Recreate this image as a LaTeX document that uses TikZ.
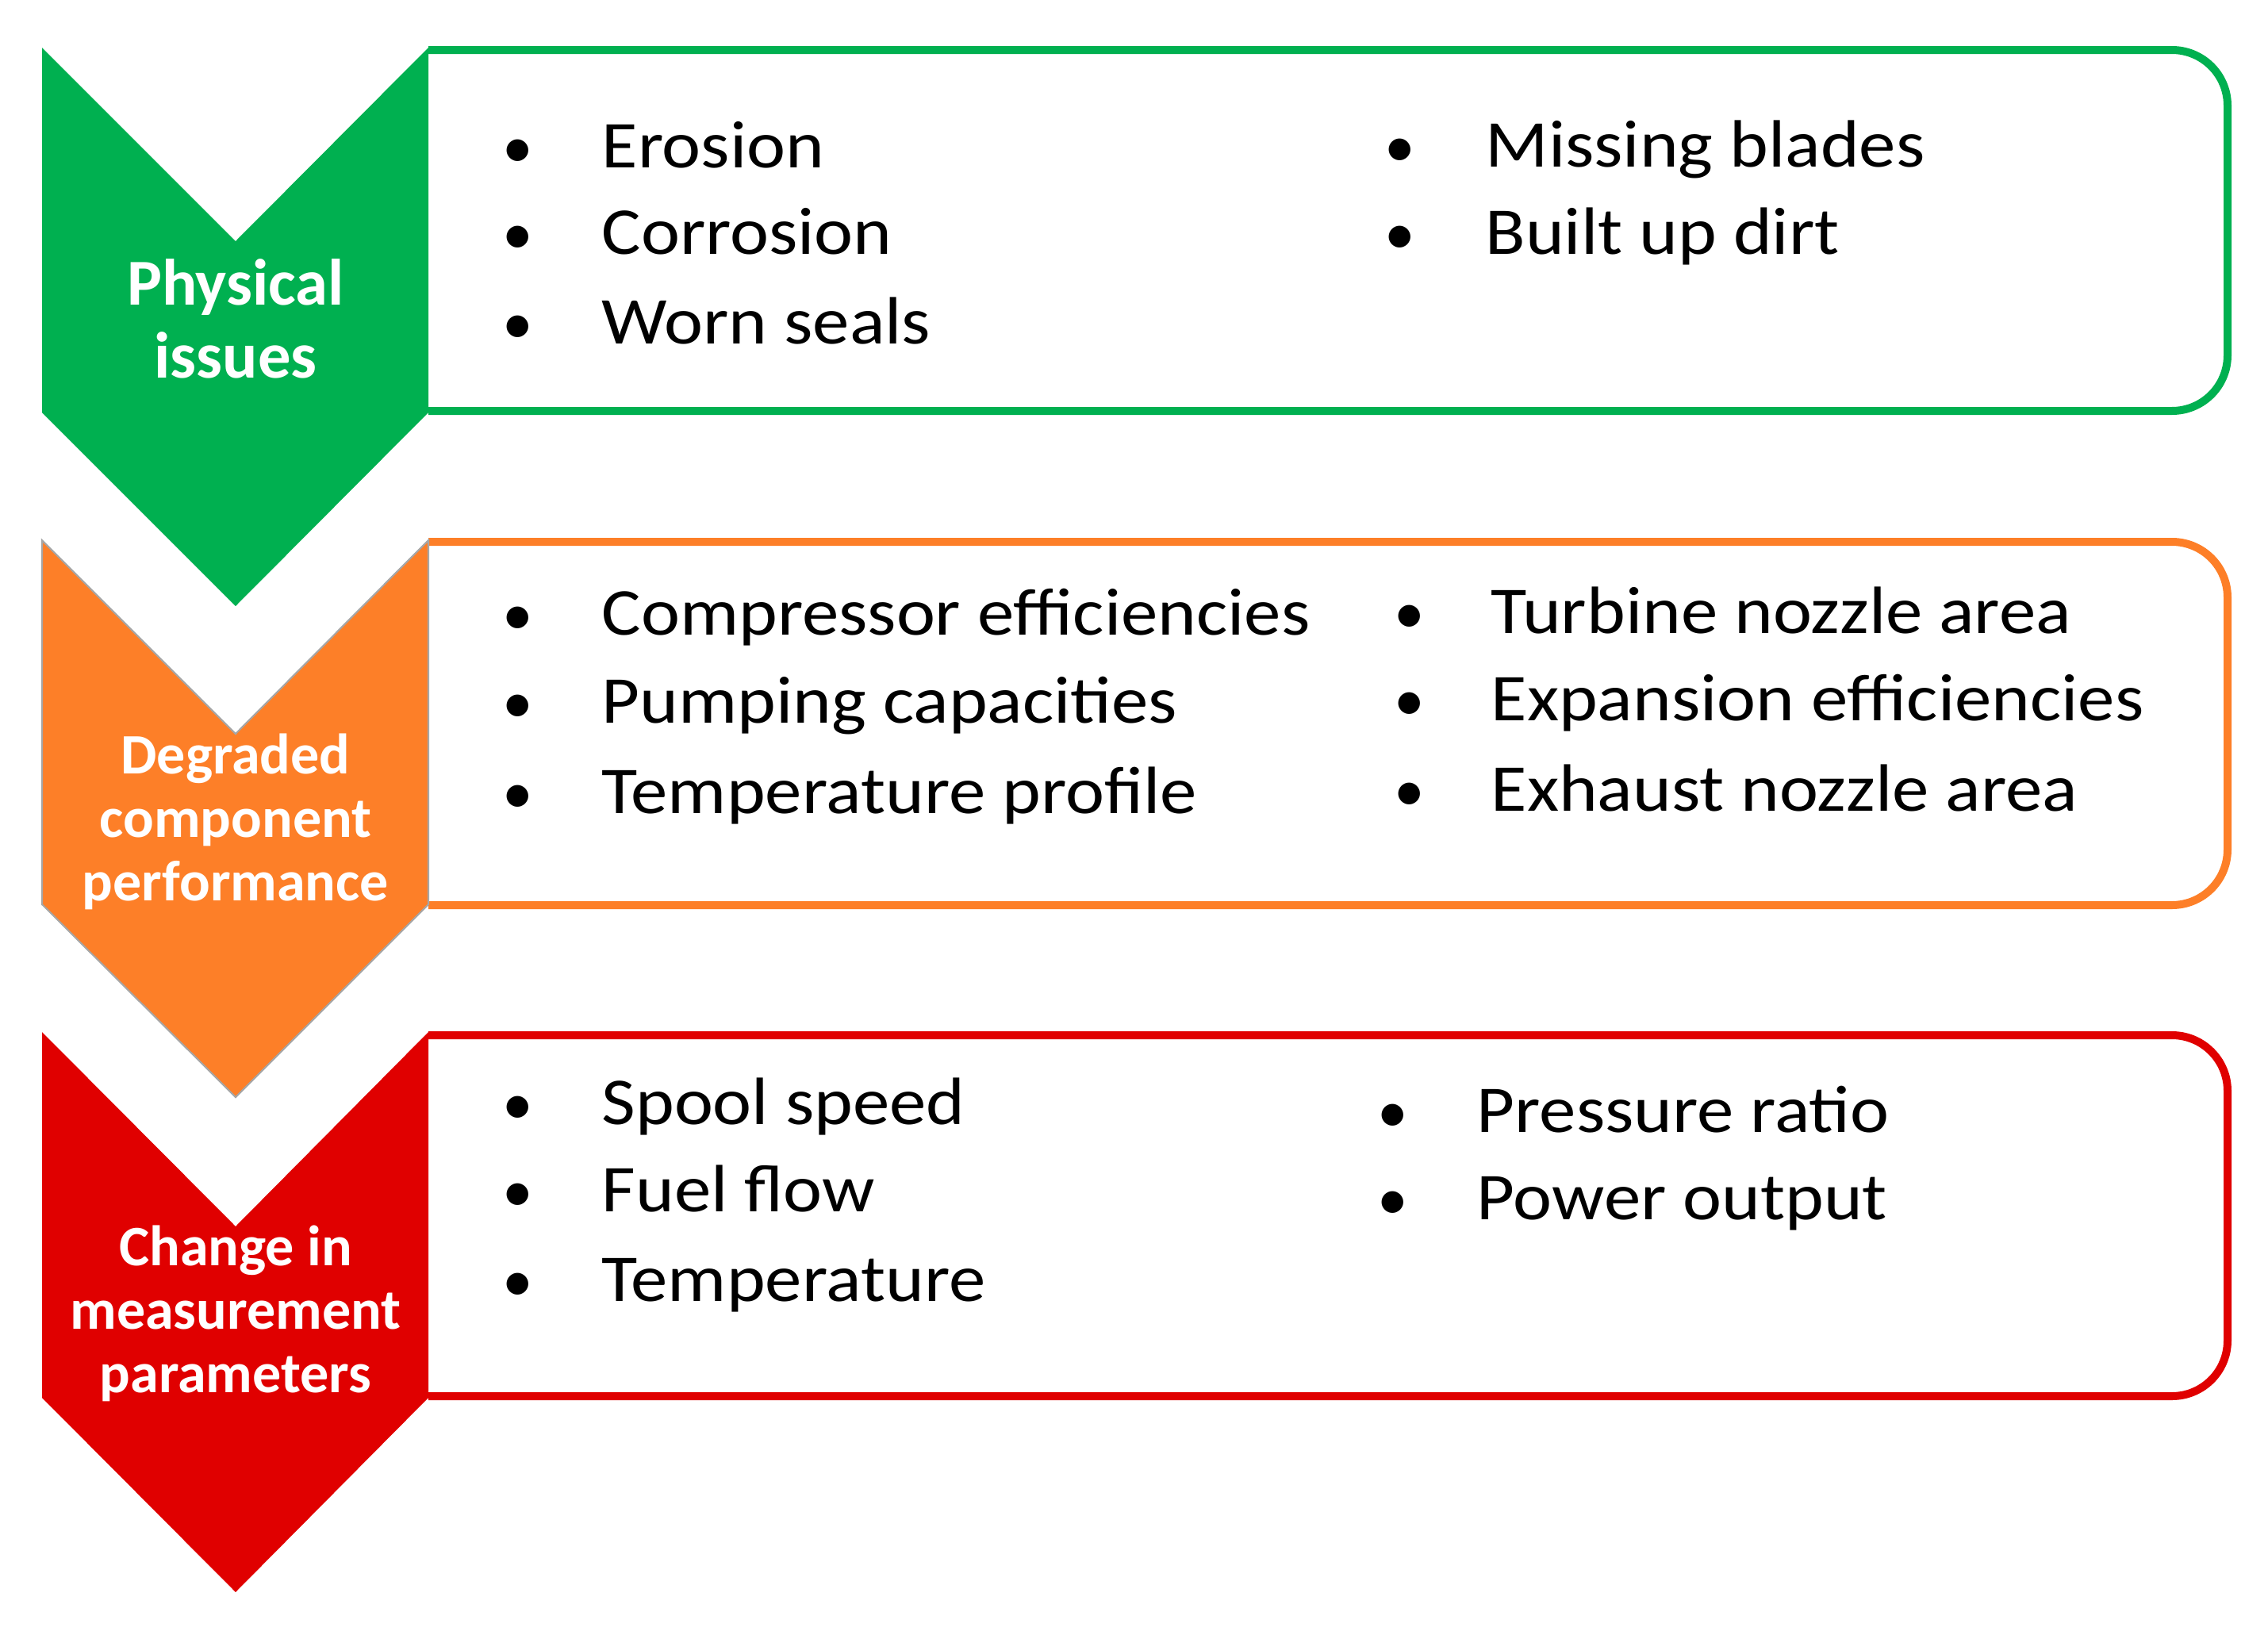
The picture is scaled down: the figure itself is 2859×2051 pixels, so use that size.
\documentclass[tikz,border=0pt]{standalone}
\usepackage{fontspec}
\setmainfont{Carlito}
\newfontfamily\itemfont[FakeStretch=1.1]{Carlito}
\usetikzlibrary{positioning}

\definecolor{physgreen}{RGB}{0,176,80}
\definecolor{degorange}{RGB}{253,127,40}
\definecolor{measred}{RGB}{224,0,0}

\tikzset{
  panel/.style={line width=0.1cm, rounded corners=0.7cm},
  head/.style={text=white, align=center, inner sep=0pt, font=\bfseries\fontsize{20.5}{22.8}\selectfont},
  item/.style={anchor=base west, inner sep=0pt, font=\itemfont\fontsize{24}{29}\selectfont},
  dot/.style={anchor=base, inner sep=0pt, font=\fontsize{22}{29}\selectfont}
}

\begin{document}
\begin{tikzpicture}[x=0.01cm, y=-0.01cm]
\useasboundingbox (0,0) rectangle (2859,2051);

% boxes
\draw[panel, physgreen] (540,63) -- (2808,63) -- (2808,518) -- (540,518);
\draw[panel, degorange] (540,683) -- (2808,683) -- (2808,1141) -- (540,1141);
\draw[panel, measred] (540,1305) -- (2808,1305) -- (2808,1760) -- (540,1760);

% chevrons
\fill[physgreen] (53,60) -- (297,304) -- (540,60) -- (540,520) -- (297,764) -- (53,520) -- cycle;
\filldraw[degorange, draw=gray!70, line width=0.6pt] (53,681) -- (297,925) -- (540,681) -- (540,1140) -- (297,1383) -- (53,1140) -- cycle;
\fill[measred] (53,1301) -- (297,1546) -- (540,1301) -- (540,1762) -- (297,2007) -- (53,1762) -- cycle;

% labels
\node[head, font=\bfseries\fontsize{23.5}{26.2}\selectfont] (phys) at (297,402) {Physical\\issues};
\node[head] (deg) at (297,1036) {Degraded\\component\\performance};
\node[head] (meas) at (297,1656) {Change in\\measurement\\parameters};

% physical issues
\node[dot] (p1d) at (653,211) {•};
\node[item] (p1) at (758,211) {Erosion};
\node[dot] (p2d) at (653,320) {•};
\node[item] (p2) at (758,320) {Corrosion};
\node[dot] (p3d) at (653,433) {•};
\node[item] (p3) at (758,433) {Worn seals};
\node[dot] (p4d) at (1765,210) {•};
\node[item] (p4) at (1872,210) {Missing blades};
\node[dot] (p5d) at (1765,320) {•};
\node[item] (p5) at (1872,320) {Built up dirt};

% degraded performance
\node[dot] (d1d) at (653,800) {•};
\node[item] (d1) at (758,800) {Compressor efficiencies};
\node[dot] (d2d) at (653,911) {•};
\node[item] (d2) at (758,911) {Pumping capacities};
\node[dot] (d3d) at (653,1025) {•};
\node[item] (d3) at (758,1025) {Temperature profile};
\node[dot] (d4d) at (1777,798) {•};
\node[item] (d4) at (1879,798) {Turbine nozzle area};
\node[dot] (d5d) at (1777,908) {•};
\node[item] (d5) at (1879,908) {Expansion efficiencies};
\node[dot] (d6d) at (1777,1022) {•};
\node[item] (d6) at (1879,1022) {Exhaust nozzle area};

% measurement parameters
\node[dot] (m1d) at (653,1417) {•};
\node[item] (m1) at (758,1417) {Spool speed};
\node[dot] (m2d) at (653,1527) {•};
\node[item] (m2) at (758,1527) {Fuel flow};
\node[dot] (m3d) at (653,1640) {•};
\node[item] (m3) at (758,1640) {Temperature};
\node[dot] (m4d) at (1756,1427) {•};
\node[item] (m4) at (1861,1427) {Pressure ratio};
\node[dot] (m5d) at (1756,1537) {•};
\node[item] (m5) at (1861,1537) {Power output};

\end{tikzpicture}
\end{document}
